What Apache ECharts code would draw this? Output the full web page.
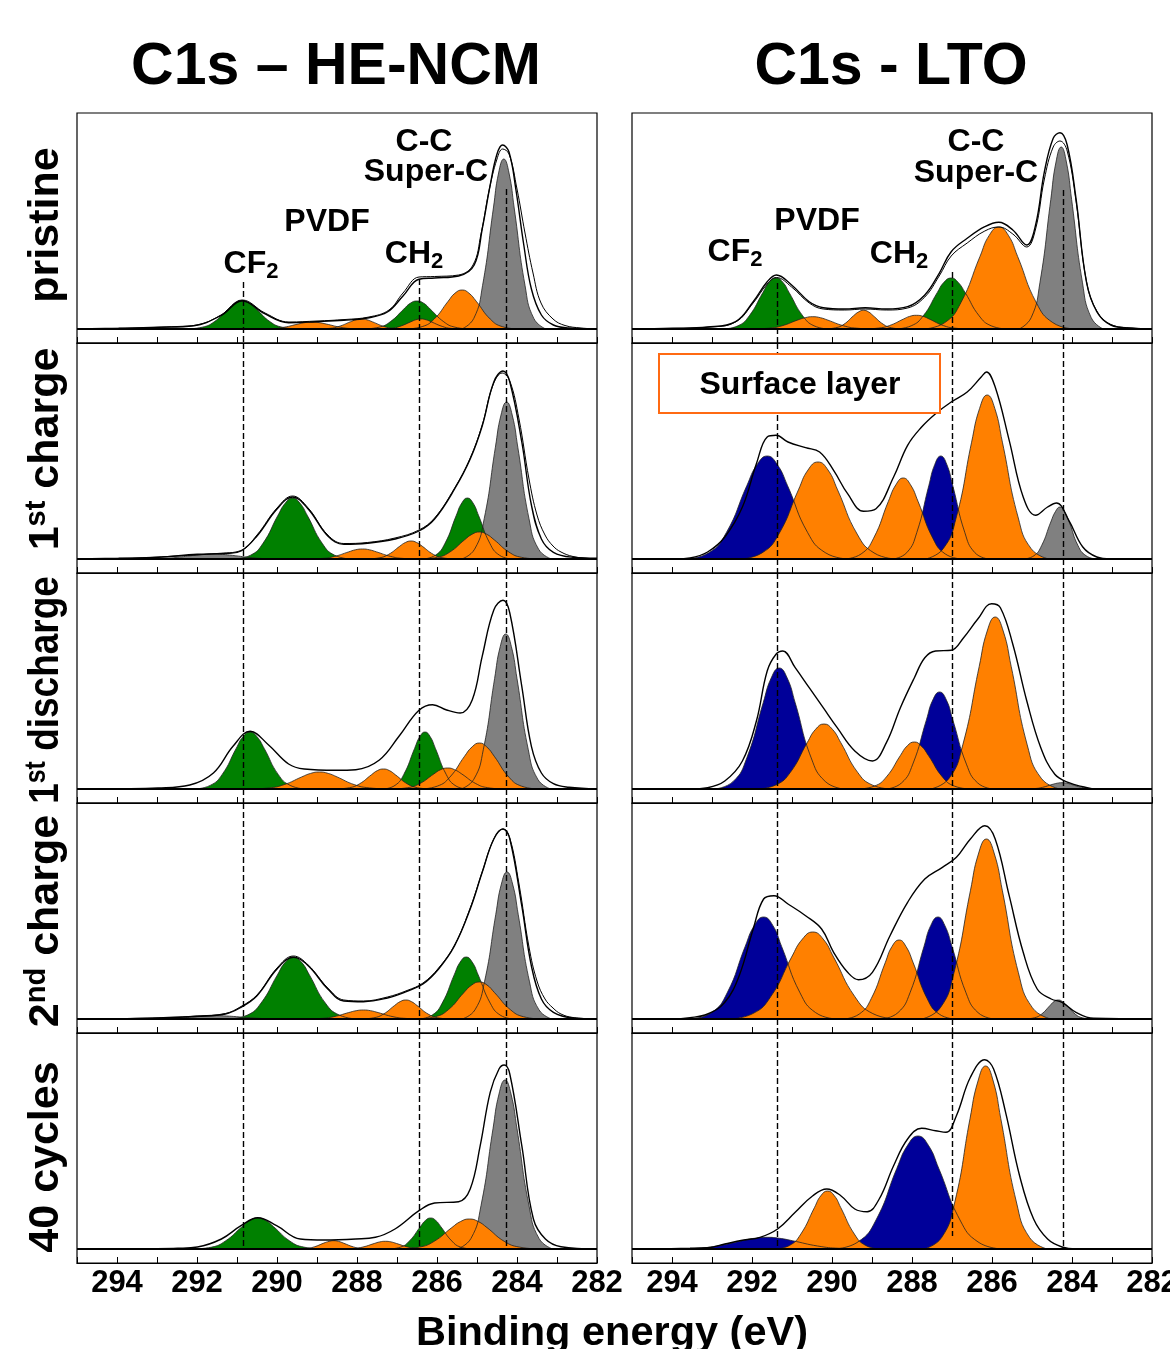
<!DOCTYPE html>
<html lang="en">
<head>
<meta charset="UTF-8">
<title>C1s XPS - HE-NCM / LTO</title>
<script src="https://cdn.jsdelivr.net/npm/echarts@6/dist/echarts.min.js"></script>
<style>
  html, body { margin: 0; padding: 0; background: #fff; }
  #chart { width: 1170px; height: 1349px; }
</style>
</head>
<body>
<div id="chart"></div>
<script>
// binding energy axis (eV), drawn high -> low
const energyLabels = [294, 292, 290, 288, 286, 284, 282];
const rowNames = ['pristine', '1st charge', '1st discharge', '2nd charge', '40 cycles'];

// reference lines (eV) and where they start in the top panel / stop in the bottom one
const ncmRefLines = [290.85, 286.45, 284.27];
const ncmRefTop = [47, 50, 140];
const ncmRefBottom = [0, 0, 0];
const ltoRefLines = [291.38, 287.0, 284.23];
const ltoRefTop = [46, 57, 139];
const ltoRefBottom = [0, 13, 0];

// ---------- C1s HE-NCM : fitted components [kind, [eV, intensity]] ----------
const ncmPristine = [
  ['green', [[292.27,0],[291.87,1.8],[291.57,7.2],[291.22,19.9],[291.05,25.7],[290.87,28],[290.7,25.7],[290.52,19.9],[290.17,7.2],[289.87,1.8],[289.47,0]]],
  ['orange', [[290.52,0],[290.12,0.4],[289.82,1.8],[289.47,5],[289.3,6.4],[289.12,7],[288.95,6.4],[288.77,5],[288.42,1.8],[288.12,0.4],[287.72,0]]],
  ['orange', [[289.01,0],[288.69,0.6],[288.45,2.6],[288.17,7.1],[288.03,9.2],[287.89,10],[287.75,9.2],[287.61,7.1],[287.33,2.6],[287.09,0.6],[286.77,0]]],
  ['green', [[287.83,0],[287.45,1.8],[287.17,7.2],[286.83,19.9],[286.67,25.7],[286.5,28],[286.33,25.7],[286.17,19.9],[285.83,7.2],[285.55,1.8],[285.17,0]]],
  ['orange', [[287.45,0],[287.15,0.6],[286.93,2.6],[286.66,7.1],[286.53,9.2],[286.4,10],[286.27,9.2],[286.14,7.1],[285.87,2.6],[285.65,0.6],[285.35,0]]],
  ['orange', [[286.77,0],[286.37,2.4],[286.07,10],[285.72,27.8],[285.55,35.8],[285.37,39],[285.2,35.8],[285.02,27.8],[284.67,10],[284.37,2.4],[283.97,0]]],
  ['gray', [[285.38,0],[285.08,10.6],[284.86,43.7],[284.59,121],[284.46,156],[284.33,170],[284.2,156],[284.07,121],[283.8,43.7],[283.58,10.6],[283.28,0]]]
];
const ncmPristineEnv = [[295,0],[293.96,0.7],[292.97,1.7],[292.08,3.3],[291.39,13.7],[290.87,28.3],[290.31,15.3],[289.71,6.3],[289.02,7.3],[288.33,8.7],[287.74,11],[287.24,17],[286.85,33],[286.45,49.7],[286.06,51],[285.46,53],[285.07,64],[284.87,100],[284.67,144],[284.5,175],[284.36,184],[284.2,177],[284.03,140],[283.83,84],[283.64,40],[283.39,14],[283.09,4],[282.7,1],[282,0]];
const ncmPristineRaw = [[295,0],[293.5,1],[292.5,2.5],[292.0,4],[291.4,14],[290.87,29],[290.3,16],[289.7,7],[289.0,8],[288.3,9.5],[287.7,12],[287.2,19],[286.85,36],[286.45,52],[286.06,52.5],[285.46,54],[285.1,64],[284.9,95],[284.7,138],[284.5,170],[284.36,180],[284.2,175],[284.0,140],[283.8,96],[283.6,56],[283.4,26],[283.1,10],[282.8,3.5],[282.4,1],[282,0]];

const ncmCharge1 = [
  ['gray', [[293.56,0],[293.0,0.3],[292.58,1.3],[292.09,3.6],[291.85,4.6],[291.6,5],[291.36,4.6],[291.11,3.6],[290.62,1.3],[290.2,0.3],[289.64,0]]],
  ['green', [[291.08,0],[290.66,3.8],[290.35,15.7],[289.98,43.4],[289.79,56],[289.61,61],[289.43,56],[289.24,43.4],[288.87,15.7],[288.56,3.8],[288.14,0]]],
  ['orange', [[289.26,0],[288.86,0.6],[288.56,2.6],[288.21,7.1],[288.04,9.2],[287.86,10],[287.69,9.2],[287.51,7.1],[287.16,2.6],[286.86,0.6],[286.46,0]]],
  ['orange', [[287.77,0],[287.45,1.1],[287.21,4.6],[286.93,12.8],[286.79,16.5],[286.65,18],[286.51,16.5],[286.37,12.8],[286.09,4.6],[285.85,1.1],[285.53,0]]],
  ['green', [[286.36,0],[286.04,3.8],[285.8,15.7],[285.52,43.4],[285.38,56],[285.24,61],[285.1,56],[284.96,43.4],[284.68,15.7],[284.44,3.8],[284.12,0]]],
  ['orange', [[286.41,0],[285.99,1.7],[285.68,6.9],[285.31,19.2],[285.12,24.8],[284.94,27],[284.76,24.8],[284.57,19.2],[284.2,6.9],[283.89,1.7],[283.47,0]]],
  ['gray', [[285.38,0],[285.06,9.8],[284.82,40.3],[284.54,111.8],[284.4,144],[284.26,157],[284.12,144],[283.98,111.8],[283.7,40.3],[283.46,9.8],[283.14,0]]]
];
const ncmCharge1Env = [[295,0],[293.96,0.7],[292.97,1.7],[291.99,4.7],[291.2,5.7],[290.9,8],[290.5,23],[290.0,50],[289.61,62],[289.22,50],[288.73,23],[288.33,14.7],[287.74,15.7],[287.05,20],[286.45,28],[286.06,40],[285.56,70],[285.17,100],[284.87,133],[284.58,177],[284.35,188],[284.18,177],[283.88,117],[283.64,54],[283.39,20],[283.09,6.7],[282.6,1.7],[282,0.7]];
const ncmCharge1Raw = [[295,0],[293.5,1],[292.5,3],[291.5,5.5],[290.9,8.5],[290.5,24],[290.0,51],[289.61,63],[289.22,51],[288.73,24],[288.33,15.5],[287.74,16.5],[287.05,21],[286.45,29],[286.06,41],[285.56,71],[285.17,101],[284.87,134],[284.6,174],[284.37,186],[284.18,178],[283.95,140],[283.7,80],[283.5,44],[283.3,24],[283.1,13],[282.9,7],[282.6,2.5],[282.2,0.5],[282,0]];

const ncmDischarge1 = [
  ['green', [[292.07,0],[291.67,3.6],[291.37,14.6],[291.02,40.6],[290.85,52.3],[290.67,57],[290.5,52.3],[290.32,40.6],[289.97,14.6],[289.67,3.6],[289.27,0]]],
  ['orange', [[290.69,0],[290.19,1.1],[289.82,4.4],[289.38,12.1],[289.16,15.6],[288.94,17],[288.72,15.6],[288.5,12.1],[288.07,4.4],[287.69,1.1],[287.19,0]]],
  ['orange', [[288.53,0],[288.19,1.3],[287.94,5.1],[287.64,14.2],[287.49,18.4],[287.34,20],[287.19,18.4],[287.04,14.2],[286.74,5.1],[286.49,1.3],[286.15,0]]],
  ['green', [[287.35,0],[287.05,3.6],[286.83,14.6],[286.56,40.6],[286.43,52.3],[286.3,57],[286.17,52.3],[286.04,40.6],[285.77,14.6],[285.55,3.6],[285.25,0]]],
  ['orange', [[287.13,0],[286.73,1.3],[286.43,5.4],[286.08,15],[285.91,19.3],[285.73,21],[285.56,19.3],[285.38,15],[285.03,5.4],[284.73,1.3],[284.33,0]]],
  ['orange', [[286.41,0],[285.99,2.9],[285.68,11.8],[285.31,32.8],[285.12,42.2],[284.94,46],[284.76,42.2],[284.57,32.8],[284.2,11.8],[283.89,2.9],[283.47,0]]],
  ['gray', [[285.4,0],[285.08,9.7],[284.84,39.8],[284.56,110.4],[284.42,142.3],[284.28,155],[284.14,142.3],[284.0,110.4],[283.72,39.8],[283.48,9.7],[283.16,0]]]
];
const ncmDischarge1Env = [[295,0],[293.96,0.3],[292.97,1],[292.18,4],[291.59,16],[291.1,42.7],[290.67,57.7],[290.21,44],[289.71,25],[289.32,20],[288.53,18.7],[288.03,19.3],[287.44,29],[286.95,52.7],[286.45,78.7],[286.11,84.3],[285.76,79],[285.42,76],[285.12,89],[284.87,132.7],[284.58,179],[284.35,188.7],[284.18,176],[283.88,102.7],[283.64,42.7],[283.39,16],[283.09,5.3],[282.7,1.7],[282,0]];

const ncmCharge2 = [
  ['gray', [[293.46,0],[292.9,0.2],[292.48,0.8],[291.99,2.3],[291.75,3],[291.5,3.3],[291.26,3],[291.01,2.3],[290.52,0.8],[290.1,0.2],[289.54,0]]],
  ['green', [[291.2,0],[290.74,3.9],[290.4,15.9],[289.99,44.1],[289.79,56.9],[289.59,62],[289.39,56.9],[289.19,44.1],[288.79,15.9],[288.44,3.9],[287.98,0]]],
  ['orange', [[289.31,0],[288.89,0.6],[288.58,2.3],[288.21,6.4],[288.02,8.3],[287.84,9],[287.66,8.3],[287.47,6.4],[287.1,2.3],[286.79,0.6],[286.37,0]]],
  ['orange', [[287.9,0],[287.58,1.2],[287.34,4.9],[287.06,13.5],[286.92,17.4],[286.78,19],[286.64,17.4],[286.5,13.5],[286.22,4.9],[285.98,1.2],[285.66,0]]],
  ['green', [[286.46,0],[286.12,3.9],[285.87,15.9],[285.57,44.1],[285.42,56.9],[285.27,62],[285.12,56.9],[284.97,44.1],[284.67,15.9],[284.42,3.9],[284.08,0]]],
  ['orange', [[286.48,0],[286.04,2.3],[285.71,9.5],[285.33,26.3],[285.13,34],[284.94,37],[284.75,34],[284.56,26.3],[284.17,9.5],[283.84,2.3],[283.4,0]]],
  ['gray', [[285.37,0],[285.05,9.2],[284.81,37.8],[284.53,104.7],[284.39,135],[284.25,147],[284.11,135],[283.97,104.7],[283.69,37.8],[283.45,9.2],[283.13,0]]]
];
const ncmCharge2Env = [[295,0],[293.96,0.3],[292.97,1],[291.99,2.7],[291.29,5],[290.9,11.7],[290.5,23.3],[290.0,50],[289.59,61.7],[289.22,53.3],[288.73,30],[288.33,18],[287.84,17.3],[287.24,21],[286.75,27.7],[286.35,35],[285.96,50],[285.56,73.3],[285.17,110],[284.87,146.7],[284.58,180],[284.35,190],[284.18,180],[283.88,113],[283.64,53],[283.39,20],[283.09,6.7],[282.6,1],[282,0]];
const ncmCharge2Raw = [[295,0],[293.5,0.6],[292.5,1.8],[291.99,3],[291.29,5.5],[290.9,12.5],[290.5,24],[290.0,51],[289.59,63],[289.22,54],[288.73,31],[288.33,19],[287.84,18],[287.24,22],[286.75,28.5],[286.35,36],[285.96,51],[285.56,74],[285.17,111],[284.87,147],[284.58,180],[284.35,190],[284.18,181],[283.95,135],[283.7,72],[283.5,38],[283.3,20],[283.1,11],[282.9,5],[282.6,1.5],[282,0]];

const ncmCycles40 = [
  ['green', [[292.09,0],[291.63,1.9],[291.29,8],[290.88,22.1],[290.68,28.5],[290.48,31],[290.28,28.5],[290.08,22.1],[289.68,8],[289.33,1.9],[288.87,0]]],
  ['orange', [[289.56,0],[289.28,0.5],[289.07,2.1],[288.83,5.9],[288.7,7.6],[288.58,8.3],[288.46,7.6],[288.34,5.9],[288.09,2.1],[287.88,0.5],[287.6,0]]],
  ['orange', [[288.41,0],[288.09,0.5],[287.85,2],[287.57,5.5],[287.43,7.1],[287.29,7.7],[287.15,7.1],[287.01,5.5],[286.73,2],[286.49,0.5],[286.17,0]]],
  ['green', [[287.21,0],[286.91,1.9],[286.69,8],[286.42,22.1],[286.29,28.5],[286.16,31],[286.03,28.5],[285.9,22.1],[285.63,8],[285.41,1.9],[285.11,0]]],
  ['orange', [[286.94,0],[286.44,1.9],[286.07,7.7],[285.63,21.4],[285.41,27.5],[285.19,30],[284.97,27.5],[284.75,21.4],[284.32,7.7],[283.94,1.9],[283.44,0]]],
  ['gray', [[285.49,0],[285.15,10.6],[284.9,43.4],[284.6,120.3],[284.45,155],[284.3,169],[284.15,155],[284.0,120.3],[283.7,43.4],[283.45,10.6],[283.11,0]]]
];
const ncmCycles40Env = [[295,0],[293.17,0.3],[292.48,0.7],[291.99,2],[291.39,10],[290.9,23.3],[290.48,31.3],[290.01,23.3],[289.42,10],[288.82,9],[288.03,10],[287.54,11.7],[287.05,20],[286.45,38.3],[286.06,46],[285.46,47.3],[285.17,60],[284.92,103.3],[284.67,156.7],[284.45,180],[284.32,184],[284.18,175],[283.88,103.3],[283.59,30],[283.29,10],[282.9,2.3],[282,0]];

// ---------- C1s LTO ----------
const ltoPristine = [
  ['green', [[292.73,0],[292.35,3.2],[292.07,13.1],[291.73,36.3],[291.57,46.8],[291.4,51],[291.23,46.8],[291.07,36.3],[290.73,13.1],[290.45,3.2],[290.07,0]]],
  ['orange', [[292.02,0],[291.58,0.8],[291.25,3.2],[290.87,8.8],[290.67,11.3],[290.48,12.3],[290.29,11.3],[290.1,8.8],[289.71,3.2],[289.38,0.8],[288.94,0]]],
  ['orange', [[290.19,0],[289.91,1.2],[289.7,4.8],[289.46,13.3],[289.33,17.2],[289.21,18.7],[289.09,17.2],[288.97,13.3],[288.72,4.8],[288.51,1.2],[288.23,0]]],
  ['orange', [[289.22,0],[288.84,0.9],[288.56,3.5],[288.22,9.8],[288.06,12.6],[287.89,13.7],[287.72,12.6],[287.56,9.8],[287.22,3.5],[286.94,0.9],[286.56,0]]],
  ['green', [[288.42,0],[288.02,3.2],[287.72,13.1],[287.37,36.3],[287.2,46.8],[287.02,51],[286.85,46.8],[286.67,36.3],[286.32,13.1],[286.02,3.2],[285.62,0]]],
  ['orange', [[287.72,0],[287.18,6.4],[286.78,26.2],[286.3,72.6],[286.07,93.6],[285.83,102],[285.59,93.6],[285.36,72.6],[284.89,26.2],[284.48,6.4],[283.94,0]]],
  ['gray', [[285.32,0],[285.02,11.4],[284.8,46.8],[284.53,129.6],[284.4,167],[284.27,182],[284.14,167],[284.01,129.6],[283.74,46.8],[283.52,11.4],[283.22,0]]]
];
const ltoPristineEnv = [[295,0],[293.99,0.7],[293.11,2],[292.41,7.3],[291.97,27.3],[291.62,47.3],[291.39,54],[291.01,44],[290.57,27.3],[290.22,21.3],[289.69,20],[289.17,21.3],[288.64,20],[288.11,22.3],[287.68,34],[287.32,55.7],[287.02,77.3],[286.62,90.7],[286.18,102.3],[285.83,106.7],[285.48,99],[285.13,84],[284.91,104],[284.69,157.3],[284.47,190.7],[284.3,196.3],[284.12,184],[283.9,130.7],[283.64,47.3],[283.38,17.3],[283.03,4],[282.5,0.7],[282,0]];
const ltoPristineRaw = [[295,0],[294,0.5],[293.1,1.8],[292.41,7],[291.97,26],[291.62,45],[291.39,51.5],[291.01,42],[290.57,26],[290.22,20],[289.69,19],[289.17,20],[288.64,19],[288.11,21],[287.68,32],[287.32,53],[287.02,73],[286.62,86],[286.18,98],[285.83,102],[285.48,95],[285.13,82],[284.91,100],[284.69,150],[284.47,182],[284.3,188],[284.12,178],[283.9,128],[283.64,48],[283.38,18],[283.03,4.5],[282.5,1],[282,0]];

const ltoCharge1 = [
  ['blue', [[293.65,0],[293.07,6.4],[292.64,26.5],[292.13,73.3],[291.87,94.6],[291.62,103],[291.37,94.6],[291.11,73.3],[290.61,26.5],[290.17,6.4],[289.59,0]]],
  ['orange', [[292.31,0],[291.75,6.1],[291.33,24.9],[290.84,69.1],[290.6,89],[290.35,97],[290.1,89],[289.86,69.1],[289.37,24.9],[288.95,6.1],[288.39,0]]],
  ['orange', [[289.69,0],[289.27,5.1],[288.96,20.8],[288.59,57.7],[288.4,74.4],[288.22,81],[288.04,74.4],[287.85,57.7],[287.48,20.8],[287.17,5.1],[286.75,0]]],
  ['blue', [[288.47,0],[288.13,6.4],[287.88,26.5],[287.58,73.3],[287.43,94.6],[287.28,103],[287.13,94.6],[286.98,73.3],[286.68,26.5],[286.43,6.4],[286.09,0]]],
  ['orange', [[287.66,0],[287.22,10.3],[286.89,42.1],[286.51,116.8],[286.31,150.6],[286.12,164],[285.93,150.6],[285.74,116.8],[285.35,42.1],[285.02,10.3],[284.58,0]]],
  ['gray', [[285.21,0],[284.95,3.3],[284.76,13.4],[284.53,37],[284.41,47.7],[284.3,52],[284.19,47.7],[284.07,37],[283.85,13.4],[283.65,3.3],[283.39,0]]]
];
const ltoCharge1Env = [[295,0],[293.9,0],[293.55,1],[293.11,7],[292.68,22],[292.24,52],[291.89,95.3],[291.62,122],[291.4,123.7],[291.1,117],[290.66,111.3],[290.31,107],[289.96,88.7],[289.61,65.3],[289.21,47.7],[288.9,50.3],[288.46,82],[288.11,113.7],[287.76,132],[287.41,145.3],[287.02,157],[286.62,167],[286.27,182],[286.14,187],[285.92,172],[285.57,118.7],[285.22,62],[284.91,43.7],[284.61,52],[284.39,56],[284.08,38.7],[283.73,12],[283.38,2],[283.03,0],[282,0]];

const ltoDischarge1 = [
  ['blue', [[292.93,0],[292.47,7.6],[292.13,31.1],[291.72,86.2],[291.52,111],[291.32,121],[291.12,111],[290.92,86.2],[290.52,31.1],[290.17,7.6],[289.71,0]]],
  ['orange', [[291.88,0],[291.4,4.1],[291.04,16.7],[290.62,46.3],[290.41,59.7],[290.2,65],[289.99,59.7],[289.78,46.3],[289.36,16.7],[289.0,4.1],[288.52,0]]],
  ['orange', [[289.34,0],[288.94,2.9],[288.64,12.1],[288.29,33.5],[288.12,43.1],[287.94,47],[287.77,43.1],[287.59,33.5],[287.24,12.1],[286.94,2.9],[286.54,0]]],
  ['blue', [[288.64,0],[288.26,6.1],[287.98,24.9],[287.64,69.1],[287.48,89],[287.31,97],[287.14,89],[286.98,69.1],[286.64,24.9],[286.36,6.1],[285.98,0]]],
  ['orange', [[287.53,0],[287.07,10.8],[286.73,44.2],[286.32,122.5],[286.12,158],[285.92,172],[285.72,158],[285.52,122.5],[285.12,44.2],[284.77,10.8],[284.31,0]]],
  ['gray', [[285.23,0],[284.95,0.4],[284.74,1.6],[284.5,4.5],[284.37,5.8],[284.25,6.3],[284.13,5.8],[284.01,4.5],[283.76,1.6],[283.55,0.4],[283.27,0]]]
];
const ltoDischarge1Env = [[295,0],[293.55,0],[293.11,1.3],[292.68,8],[292.24,28],[291.89,68],[291.62,118],[291.4,134.7],[291.23,138],[290.92,121.3],[290.57,101.3],[290.22,81.3],[289.87,61.3],[289.43,38],[288.99,28],[288.64,46.3],[288.29,81.3],[287.94,111.3],[287.68,131.3],[287.41,138],[287.02,138.7],[286.71,151.3],[286.36,169.7],[286.01,185.3],[285.79,181.3],[285.48,144.7],[285.13,88],[284.78,41.3],[284.43,14.7],[284.08,6.3],[283.73,2.3],[283.38,0],[282,0]];

const ltoCharge2 = [
  ['blue', [[293.53,0],[293.01,6.4],[292.62,26.2],[292.17,72.6],[291.94,93.6],[291.71,102],[291.48,93.6],[291.26,72.6],[290.8,26.2],[290.41,6.4],[289.89,0]]],
  ['orange', [[292.58,0],[291.98,5.4],[291.53,22.4],[291.01,61.9],[290.74,79.9],[290.48,87],[290.22,79.9],[289.96,61.9],[289.43,22.4],[288.98,5.4],[288.38,0]]],
  ['orange', [[289.72,0],[289.32,4.9],[289.02,20.3],[288.67,56.2],[288.5,72.5],[288.32,79],[288.15,72.5],[287.97,56.2],[287.62,20.3],[287.32,4.9],[286.92,0]]],
  ['blue', [[288.75,0],[288.35,6.4],[288.05,26.2],[287.7,72.6],[287.53,93.6],[287.35,102],[287.18,93.6],[287.0,72.6],[286.65,26.2],[286.35,6.4],[285.95,0]]],
  ['orange', [[287.75,0],[287.29,11.3],[286.95,46.3],[286.54,128.2],[286.34,165],[286.14,180],[285.94,165],[285.74,128.2],[285.34,46.3],[284.99,11.3],[284.53,0]]],
  ['gray', [[285.18,0],[284.94,1.2],[284.76,4.9],[284.55,13.5],[284.45,17.4],[284.34,19],[284.24,17.4],[284.13,13.5],[283.92,4.9],[283.74,1.2],[283.5,0]]]
];
const ltoCharge2Env = [[295,0],[293.99,0],[293.55,1.3],[293.11,5],[292.68,16.7],[292.32,43.3],[291.97,90],[291.71,120],[291.45,123.3],[291.1,115],[290.66,103.3],[290.26,90],[289.96,66.7],[289.61,46.7],[289.34,39.3],[288.99,46.7],[288.55,83.3],[288.11,116.7],[287.68,140],[287.24,151.7],[286.89,161.7],[286.54,180],[286.18,193.3],[285.92,180],[285.57,123.3],[285.22,66.7],[284.87,30],[284.52,20],[284.25,16.7],[283.9,6.7],[283.46,0.7],[282,0]];

const ltoCycles40 = [
  ['blue', [[294.14,0],[293.42,0.7],[292.88,3],[292.25,8.3],[291.94,10.7],[291.62,11.7],[291.31,10.7],[290.99,8.3],[290.36,3],[289.82,0.7],[289.1,0]]],
  ['orange', [[291.44,0],[291.06,3.6],[290.78,14.9],[290.44,41.3],[290.28,53.2],[290.11,58],[289.94,53.2],[289.78,41.3],[289.44,14.9],[289.16,3.6],[288.78,0]]],
  ['blue', [[289.95,0],[289.35,7.1],[288.9,29],[288.38,80.5],[288.11,103.7],[287.85,113],[287.59,103.7],[287.33,80.5],[286.8,29],[286.35,7.1],[285.75,0]]],
  ['orange', [[287.7,0],[287.26,11.4],[286.93,47],[286.55,130.3],[286.35,168],[286.16,183],[285.97,168],[285.78,130.3],[285.39,47],[285.06,11.4],[284.62,0]]]
];
const ltoCycles40Env = [[295,0],[293.55,0.7],[293.11,1.3],[292.68,5],[292.24,8.7],[291.8,11.7],[291.36,20],[290.92,36.7],[290.48,53.3],[290.13,60],[289.78,53.3],[289.43,40],[289.12,37.3],[288.82,50],[288.46,83.3],[288.11,110],[287.76,120.7],[287.41,118.3],[287.15,116.7],[286.89,133.3],[286.54,171.7],[286.18,189.3],[285.96,180],[285.66,136.7],[285.31,73.3],[284.96,30],[284.61,10],[284.25,2],[283.9,0],[282,0]];

// ---------- layout / style ----------
const FONT = '"Liberation Sans", Arial, Helvetica, sans-serif';
const fills = { gray: '#808080', green: '#008000', blue: '#000099', orange: '#ff8000' };
const layer = { gray: 0, green: 1, blue: 1, orange: 2 };
const colLeft = [77, 632];
const rowTop = [113, 343, 573, 803, 1033];
const Y_MIN = -14, Y_MAX = 216;

// [components, fitted envelope, measured trace (only where it visibly separates)]
const panels = [
  [ncmPristine, ncmPristineEnv, ncmPristineRaw], [ncmCharge1, ncmCharge1Env, ncmCharge1Raw],
  [ncmDischarge1, ncmDischarge1Env, null], [ncmCharge2, ncmCharge2Env, ncmCharge2Raw],
  [ncmCycles40, ncmCycles40Env, null],
  [ltoPristine, ltoPristineEnv, ltoPristineRaw], [ltoCharge1, ltoCharge1Env, null],
  [ltoDischarge1, ltoDischarge1Env, null], [ltoCharge2, ltoCharge2Env, null],
  [ltoCycles40, ltoCycles40Env, null]
];

const grids = [], xAxes = [], yAxes = [], series = [];

panels.forEach(([peaks, env, raw], i) => {
  const col = i < 5 ? 0 : 1;
  const row = i % 5;
  grids.push({
    left: colLeft[col], top: rowTop[row], width: 520, height: 230,
    containLabel: false, outerBoundsMode: 'none',
    show: true, borderColor: '#000', borderWidth: 1.2, backgroundColor: 'transparent'
  });
  xAxes.push({
    gridIndex: i, type: 'value', min: 282, max: 295, interval: 1, inverse: true,
    axisLine: { show: true, onZero: false, lineStyle: { color: '#000', width: 1.2 } },
    axisTick: { show: true, inside: true, length: 6, lineStyle: { color: '#000', width: 1 } },
    splitLine: { show: false },
    axisLabel: {
      show: row === 4, margin: 5, color: '#000', fontSize: 31, fontWeight: 'bold', fontFamily: FONT,
      showMinLabel: true, showMaxLabel: true, hideOverlap: false,
      formatter: v => energyLabels.includes(v) ? String(v) : ''
    }
  });
  yAxes.push({ gridIndex: i, type: 'value', min: Y_MIN, max: Y_MAX, show: false });

  peaks.slice().sort((a, b) => layer[a[0]] - layer[b[0]]).forEach(([kind, pts]) => {
    series.push({
      type: 'line', xAxisIndex: i, yAxisIndex: i, data: pts, smooth: 0.5,
      symbol: 'none', silent: true, z: 2,
      lineStyle: { color: '#222', width: 0.8 },
      areaStyle: { color: fills[kind], opacity: 1 }
    });
  });

  if (raw) {
    series.push({
      type: 'line', xAxisIndex: i, yAxisIndex: i, data: raw, smooth: 0.4,
      symbol: 'none', silent: true, z: 3,
      lineStyle: { color: '#000', width: 1 }
    });
  }

  const refX = col === 0 ? ncmRefLines : ltoRefLines;
  const refTop = col === 0 ? ncmRefTop : ltoRefTop;
  const refBottom = col === 0 ? ncmRefBottom : ltoRefBottom;
  const refMarks = refX.map((x, k) => [
    { coord: [x, row === 0 ? refTop[k] : Y_MAX] },
    { coord: [x, row === 4 ? refBottom[k] : Y_MIN] }
  ]);

  series.push({
    type: 'line', xAxisIndex: i, yAxisIndex: i, data: env, smooth: 0.4,
    symbol: 'none', silent: true, z: 4,
    lineStyle: { color: '#000', width: 1.4 },
    markLine: {
      silent: true, symbol: 'none', animation: false, label: { show: false },
      lineStyle: { color: '#000', width: 1.4, type: [6, 3] },
      data: [{ yAxis: 0, lineStyle: { type: 'solid', width: 2.2, color: '#000' } }].concat(refMarks)
    }
  });
});

// ---------- text ----------
const txt = (x, y, text, size, extra) => ({
  type: 'text', x, y, z: 100,
  style: Object.assign({ text, fontSize: size, fontWeight: 'bold', fontFamily: FONT, fill: '#000',
    align: 'center', verticalAlign: 'middle' }, extra || {})
});
const subRich = {
  b: { fontSize: 32, fontWeight: 'bold', fontFamily: FONT, fill: '#000', lineHeight: 37 },
  u: { fontSize: 22, fontWeight: 'bold', fontFamily: FONT, fill: '#000', lineHeight: 22, verticalAlign: 'bottom' }
};
const supRich = {
  m: { fontSize: 43, fontWeight: 'bold', fontFamily: FONT, fill: '#000', lineHeight: 48 },
  s: { fontSize: 29, fontWeight: 'bold', fontFamily: FONT, fill: '#000', lineHeight: 28, verticalAlign: 'top' }
};
const rowText = ['{m|pristine}', '{m|1}{s|st}{m| charge}', '{m|1}{s|st}{m| discharge}', '{m|2}{s|nd}{m| charge}', '{m|40 cycles}'];
const rowMid = [225, 449, 690, 921, 1157];

const graphic = [
  txt(336, 68, 'C1s \u2013 HE-NCM', 59),
  txt(891, 68, 'C1s - LTO', 59),
  txt(612, 1334, 'Binding energy (eV)', 41.5),
  // annotations, HE-NCM pristine
  txt(424, 142, 'C-C', 32), txt(426, 172, 'Super-C', 32), txt(327, 222, 'PVDF', 32),
  txt(251, 264, '{b|CF}{u|2}', 32, { rich: subRich }),
  txt(414, 254, '{b|CH}{u|2}', 32, { rich: subRich }),
  // annotations, LTO pristine
  txt(976, 142, 'C-C', 32), txt(976, 173, 'Super-C', 32), txt(817, 221, 'PVDF', 32),
  txt(735, 252, '{b|CF}{u|2}', 32, { rich: subRich }),
  txt(899, 254, '{b|CH}{u|2}', 32, { rich: subRich }),
  // surface layer box
  { type: 'rect', z: 99, shape: { x: 659, y: 354, width: 281, height: 59 },
    style: { fill: '#fff', stroke: '#ff6a13', lineWidth: 2 } },
  txt(800, 385, 'Surface layer', 32)
];
rowText.forEach((t, r) => {
  graphic.push({
    type: 'text', x: 46, y: rowMid[r], rotation: Math.PI / 2, z: 100,
    scaleX: r === 2 ? 0.86 : 1,
    style: { text: t, rich: supRich, align: 'center', verticalAlign: 'middle' }
  });
});

const chart = echarts.init(document.getElementById('chart'), null, { renderer: 'canvas' });
chart.setOption({
  animation: false,
  backgroundColor: '#fff',
  grid: grids, xAxis: xAxes, yAxis: yAxes, series, graphic
});
</script>
</body>
</html>
